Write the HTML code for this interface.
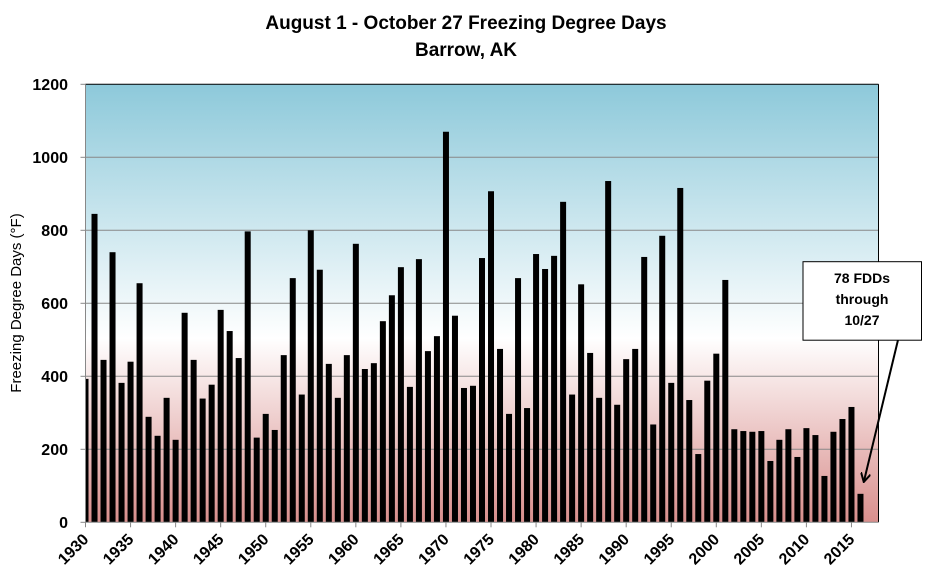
<!DOCTYPE html>
<html><head><meta charset="utf-8"><style>
body{margin:0;background:#fff;}
svg{display:block;font-family:"Liberation Sans",sans-serif;}
</style></head><body>
<svg id="chart" width="932" height="583" viewBox="0 0 932 583" xmlns="http://www.w3.org/2000/svg">
<defs>
<linearGradient id="bg" x1="0" y1="0" x2="0" y2="1">
<stop offset="0" stop-color="#8dc9da"/>
<stop offset="0.58" stop-color="#ffffff"/>
<stop offset="1" stop-color="#d98f8d"/>
</linearGradient>
<marker id="ah" markerWidth="10" markerHeight="10" refX="8" refY="5" orient="auto" markerUnits="userSpaceOnUse"><path d="M0,0 L9,5 L0,10" fill="none" stroke="#000" stroke-width="2"/></marker>
</defs>
<text x="466" y="29" text-anchor="middle" font-size="19" font-weight="bold">August 1 - October 27 Freezing Degree Days</text>
<text x="466" y="56" text-anchor="middle" font-size="19" font-weight="bold">Barrow, AK</text>
<rect x="85.5" y="84.3" width="793" height="438" fill="url(#bg)"/>
<g id="grid"></g>
<g id="bars"></g>
<g id="axes"></g>
<text transform="translate(21,303) rotate(-90)" text-anchor="middle" font-size="15">Freezing Degree Days (°F)</text>
<line x1="898" y1="340" x2="864" y2="481" stroke="#000" stroke-width="2" marker-end="url(#ah)"/>
<rect x="803" y="261.7" width="118.5" height="78.5" fill="#fff" stroke="#000" stroke-width="1"/>
<g font-size="14" font-weight="bold" text-anchor="middle">
<text x="862" y="283">78 FDDs</text>
<text x="862" y="304">through</text>
<text x="862" y="325">10/27</text>
</g>
</svg>
<script>
const years = [];
for (let y = 1930; y <= 2016; y++) years.push(y);
const values = [393,845,445,740,382,440,655,289,237,341,226,574,445,339,377,582,524,450,797,232,297,253,458,669,350,800,692,434,341,458,763,420,436,
551,622,699,371,721,469,510,1070,566,368,374,724,907,475,297,669,313,735,694,730,878,350,652,464,341,935,322,447,475,727,268,785,382,
916,335,187,388,462,664,255,250,248,250,168,226,255,179,258,239,127,248,283,316,78];
const yTicks = [0,200,400,600,800,1000,1200];
const xTicks = [1930,1935,1940,1945,1950,1955,1960,1965,1970,1975,1980,1985,1990,1995,2000,2005,2010,2015];

const NS = "http://www.w3.org/2000/svg";
const X0 = 85.5, X1 = 878.5, Y0 = 522.3, Y1 = 84.3;
const xMin = 1930, xMax = 2018, yMax = 1200;
function xs(v){ return X0 + (v - xMin) * (X1 - X0) / (xMax - xMin); }
function ys(v){ return Y0 - v * (Y0 - Y1) / yMax; }
function mk(tag, attrs, parent){ const e = document.createElementNS(NS, tag); for (const k in attrs) e.setAttribute(k, attrs[k]); parent.appendChild(e); return e; }

const grid = document.getElementById('grid'), barsG = document.getElementById('bars'), axes = document.getElementById('axes');
yTicks.forEach(t => {
  const y = ys(t);
  if (t > 0 && t < yMax) {
    const g = mk('line', {x1:X0, x2:X1, y1:y, y2:y, stroke:'#888', 'stroke-width':1}, grid);
    
    
  }
  const tk = mk('line', {x1:X0-5, x2:X0, y1:y, y2:y, stroke:'#888', 'stroke-width':1}, axes);
  
  
  const lb = mk('text', {x:68, y:y+5.5, 'text-anchor':'end', 'font-size':16, 'font-weight':'bold'}, axes);
  lb.textContent = t;
  
  
});
const clip = mk('clipPath', {id:'pc'}, document.querySelector('defs'));
mk('rect', {x:X0, y:Y1, width:X1-X0, height:Y0-Y1}, clip);
barsG.setAttribute('clip-path', 'url(#pc)');
years.forEach((yr, i) => {
  const v = values[i];
  const b = mk('rect', {x:xs(yr)-3, y:ys(v), width:6, height:Y0-ys(v), fill:'#000'}, barsG);
  
  
});
const topBorder = mk('line', {x1:X0, x2:X1, y1:Y1, y2:Y1, stroke:'#000', 'stroke-width':1}, axes);


const rt = mk('line', {x1:X1, x2:X1, y1:Y1, y2:Y0, stroke:'#000', 'stroke-width':1}, axes);


const ya = mk('line', {x1:X0, x2:X0, y1:Y1, y2:Y0, stroke:'#888', 'stroke-width':1}, axes);


const xa = mk('line', {x1:X0, x2:X1, y1:Y0, y2:Y0, stroke:'#888', 'stroke-width':1}, axes);


xTicks.forEach(t => {
  const x = xs(t);
  const tk = mk('line', {x1:x, x2:x, y1:Y0, y2:Y0+5, stroke:'#888', 'stroke-width':1}, axes);
  
  
  const lb = mk('text', {transform:'translate(' + (x+4) + ',' + (Y0+18) + ') rotate(-45)', 'text-anchor':'end', 'font-size':16, 'font-weight':'bold'}, axes);
  lb.textContent = t;
  
  
});
</script>
</body></html>
